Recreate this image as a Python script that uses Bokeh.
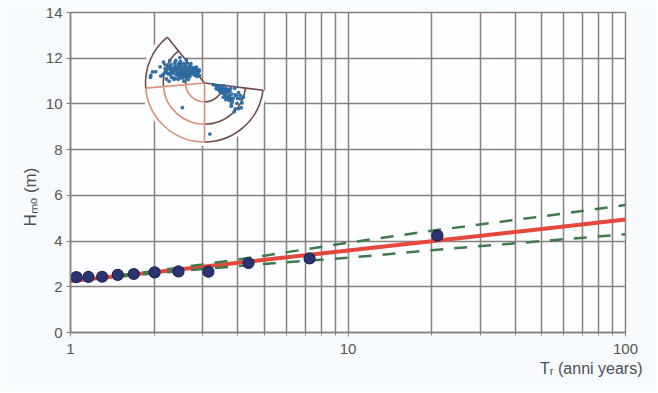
import math
from bokeh.plotting import figure
from bokeh.models import (Range1d, LinearScale, FixedTicker,
                          NumeralTickFormatter, Title)
from bokeh.embed import file_html
from bokeh.resources import INLINE

# ---------------- data ----------------
T_obs = [1.05, 1.16, 1.30, 1.48, 1.69, 2.01, 2.45, 3.14, 4.38, 7.27, 21.0]
H_obs = [2.42, 2.43, 2.44, 2.52, 2.56, 2.63, 2.67, 2.66, 3.04, 3.24, 4.24]

T_fit = [1, 2, 5, 10, 20, 50, 100]
H_fit = [2.25, 2.64, 3.18, 3.59, 3.99, 4.53, 4.94]

T_ci = [1.5, 3, 5, 10, 20, 50, 100]
H_ci_upper = [2.49, 2.98, 3.36, 3.93, 4.45, 5.08, 5.58]
H_ci_lower = [2.45, 2.78, 3.00, 3.27, 3.60, 4.00, 4.30]

y_ticks = [0, 2, 4, 6, 8, 10, 12, 14]
x_major_ticks = [1, 10, 100]
x_minor_mantissas = [2, 3, 4, 5, 6, 7, 8, 9]

x_title = "Tᵣ (anni years)"
y_title = "Hₘₒ (m)"

# wave-rose inset: sector limits (bearing, deg clockwise from N), rings (fraction of radius)
rose_bounds = [97, 180, 265, 321]
rose_sector_colors = ["#6d4b47", "#dc8e7c", "#6d4b47"]
rose_radial_colors = ["#6d4b47", "#dc8e7c", "#dc8e7c", "#6d4b47"]
rose_rings = [0.32, 0.70, 1.0]

# wave records: direction (deg) and height as fraction of rose radius
wave_dir_nw = [300, 295, 305, 290, 298, 310, 285, 300, 292, 306, 288, 296, 302, 284, 293,
               299, 287, 281, 295, 290, 283, 278, 315, 320, 318, 312, 325, 308, 303, 297,
               289, 294, 310, 286, 280, 304, 296, 291, 300, 313, 322, 316, 330, 335, 327,
               301, 297, 293, 289, 306, 311, 284, 299, 304, 292, 287, 308, 317, 295, 290,
               275, 278, 280, 283, 285, 288, 290, 293, 296, 276, 279, 282, 286, 289, 292,
               295, 298, 301, 304, 307, 310, 314, 318, 323, 328, 333, 312, 306, 300, 294,
               288, 282, 277, 273, 290, 297, 303, 309, 284, 279,
               315, 322, 330, 338, 308, 326, 318, 311]
wave_r_nw = [0.30, 0.35, 0.33, 0.40, 0.42, 0.38, 0.45, 0.48, 0.50, 0.46, 0.55, 0.57, 0.53, 0.60, 0.62,
             0.65, 0.68, 0.72, 0.74, 0.80, 0.85, 0.92, 0.28, 0.35, 0.45, 0.55, 0.40, 0.62, 0.70, 0.78,
             0.36, 0.27, 0.25, 0.50, 0.57, 0.40, 0.46, 0.66, 0.58, 0.48, 0.50, 0.60, 0.30, 0.22, 0.25,
             0.44, 0.52, 0.58, 0.47, 0.55, 0.43, 0.64, 0.39, 0.61, 0.43, 0.59, 0.51, 0.38, 0.67, 0.71,
             0.35, 0.45, 0.55, 0.38, 0.62, 0.33, 0.44, 0.52, 0.36, 0.65, 0.50, 0.28, 0.40, 0.60, 0.30,
             0.63, 0.32, 0.37, 0.28, 0.33, 0.42, 0.30, 0.38, 0.32, 0.27, 0.30, 0.35, 0.29, 0.41, 0.38,
             0.48, 0.42, 0.52, 0.60, 0.56, 0.53, 0.48, 0.52, 0.70, 0.75,
             0.20, 0.18, 0.21, 0.24, 0.22, 0.15, 0.26, 0.17]
wave_dir_se = [100, 105, 110, 115, 120, 108, 112, 118, 104, 125, 100, 115, 122, 110, 128,
               106, 118, 113, 102, 120, 98, 124, 130, 108, 116, 107, 111, 119, 103, 114, 121, 109,
               101, 104, 107, 110, 113, 116, 119, 122, 125, 128, 131, 134, 106, 112, 118, 124,
               109, 115, 121, 127]
wave_r_se = [0.25, 0.30, 0.35, 0.28, 0.40, 0.45, 0.50, 0.55, 0.38, 0.48, 0.52, 0.62, 0.65, 0.70, 0.58,
             0.60, 0.72, 0.42, 0.45, 0.33, 0.33, 0.75, 0.68, 0.22, 0.47, 0.36, 0.56, 0.49, 0.29, 0.66, 0.54, 0.41,
             0.15, 0.20, 0.27, 0.32, 0.37, 0.22, 0.30, 0.44, 0.52, 0.46, 0.60, 0.70, 0.42, 0.58, 0.36, 0.57,
             0.64, 0.25, 0.50, 0.40]
wave_dir_out = [276, 282, 222, 174, 127]
wave_r_out = [0.92, 0.90, 0.56, 0.87, 0.72]

# ---------------- figure ----------------
W, H = 656, 391
BL, BR, BT, BB = 70, 31, 12, 59
FW, FH = W - BL - BR, H - BT - BB

grid_color = "#86817c"
tick_color = "#555555"
title_color = "#4a4f57"
font = "Liberation Sans"

p = figure(width=W, height=H, x_axis_type="log", x_range=Range1d(1, 100),
           y_range=Range1d(0, 14), output_backend="svg", toolbar_location=None,
           min_border_left=BL, min_border_right=BR, min_border_top=BT, min_border_bottom=BB,
           background_fill_color="#fdfeff", border_fill_color="#f8fbfd")
p.outline_line_color = grid_color
p.outline_line_width = 1.5

minor = [m * 10 ** k for k in range(2) for m in x_minor_mantissas]
p.xaxis.ticker = FixedTicker(ticks=x_major_ticks, minor_ticks=minor)
p.xaxis.formatter = NumeralTickFormatter(format="0")
p.yaxis.ticker = FixedTicker(ticks=y_ticks)

for ax in (p.xaxis[0], p.yaxis[0]):
    ax.axis_line_color = grid_color
    ax.axis_line_width = 1.5
    ax.major_tick_line_color = grid_color
    ax.minor_tick_line_color = grid_color
    ax.major_tick_in = 0
    ax.minor_tick_in = 0
    ax.major_tick_out = 4
    ax.minor_tick_out = 3
    ax.major_label_text_font = font
    ax.major_label_text_font_size = "15px"
    ax.major_label_text_color = tick_color
p.yaxis.minor_tick_line_color = None
p.yaxis.major_label_standoff = 4
p.xaxis.major_label_standoff = 7

p.xgrid.grid_line_color = grid_color
p.xgrid.grid_line_width = 1.5
p.xgrid.minor_grid_line_color = grid_color
p.xgrid.minor_grid_line_width = 1.5
p.ygrid.grid_line_color = grid_color
p.ygrid.grid_line_width = 1.5

# axis titles as side-panel titles (right-aligned below, shifted on the left)
p.add_layout(Title(text=x_title, align="right", offset=-17, standoff=2,
                   text_font=font, text_font_size="16px", text_font_style="normal",
                   text_color=title_color), "below")
p.add_layout(Title(text=y_title, align="left", offset=106, standoff=6,
                   text_font=font, text_font_size="17px", text_font_style="normal",
                   text_color=title_color), "left")

# ---------------- inset wave rose (pixel coordinates of the frame) ----------------
p.extra_x_ranges = {"px": Range1d(0, FW)}
p.extra_y_ranges = {"px": Range1d(0, FH)}
p.extra_x_scales = {"px": LinearScale()}
p.extra_y_scales = {"px": LinearScale()}
RN = dict(x_range_name="px", y_range_name="px")

cx, cy, R = 134, 249.5, 59


def ang(b):
    return math.radians(90 - b)


p.wedge(x=[cx], y=[cy], radius=R + 4, start_angle=ang(rose_bounds[-1]), end_angle=ang(rose_bounds[0]),
        direction="anticlock", fill_color="white", line_color=None, **RN)

for i in range(len(rose_bounds) - 1):
    b0, b1 = rose_bounds[i], rose_bounds[i + 1]
    for rr in rose_rings:
        p.arc(x=[cx], y=[cy], radius=rr * R, start_angle=ang(b1), end_angle=ang(b0),
              direction="anticlock", line_color=rose_sector_colors[i], line_width=1.6, **RN)
for b, c in zip(rose_bounds, rose_radial_colors):
    p.line([cx, cx + R * math.sin(math.radians(b))], [cy, cy + R * math.cos(math.radians(b))],
           line_color=c, line_width=1.6, **RN)

wd = wave_dir_nw + wave_dir_se + wave_dir_out
wr = wave_r_nw + wave_r_se + wave_r_out
wx = [cx + r * R * math.sin(math.radians(d)) for d, r in zip(wd, wr)]
wy = [cy + r * R * math.cos(math.radians(d)) for d, r in zip(wd, wr)]
p.scatter(wx, wy, size=3.8, fill_color="#2c6aa0", line_color=None, alpha=0.95, **RN)

# ---------------- main series ----------------
p.line(T_fit, H_fit, line_color="#e4473b", line_width=4)
p.line(T_ci, H_ci_upper, line_color="#3f7a4c", line_width=2.5, line_dash="13 11")
p.line(T_ci, H_ci_lower, line_color="#3f7a4c", line_width=2.5, line_dash="13 11")
p.scatter(T_obs, H_obs, size=11, fill_color="#2b3473", line_color="#1d2452", line_width=1.2)

open("out.html", "w").write(file_html(p, INLINE))
